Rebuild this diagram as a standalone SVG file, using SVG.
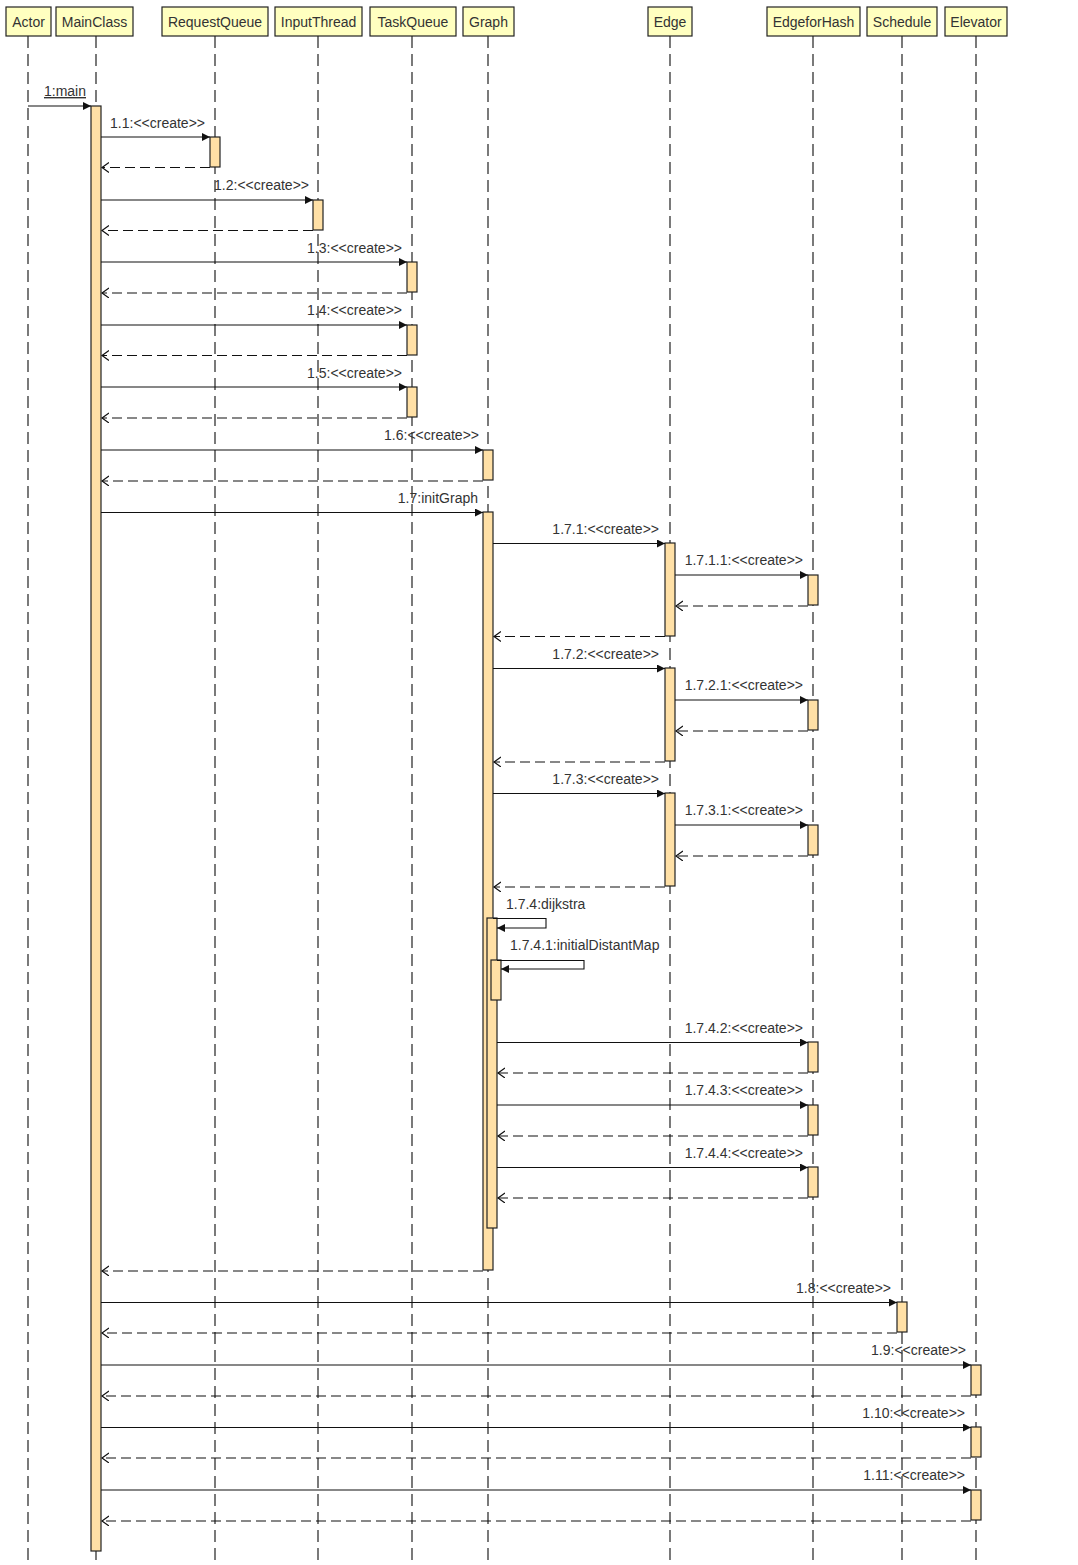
<svg xmlns="http://www.w3.org/2000/svg" width="1078" height="1565" viewBox="0 0 1078 1565">
<style>
text{font-family:"Liberation Sans",Arial,sans-serif;font-size:14px;fill:#333}
.hd{fill:#FFFFC0;stroke:#222;stroke-width:1.2}
.ll{stroke:#222;stroke-width:1.2;stroke-dasharray:12,6;fill:none}
.act{fill:#FFE0A6;stroke:#222;stroke-width:1.2}
.msg{stroke:#111;stroke-width:1.1;fill:none;marker-end:url(#sol)}
.ret{stroke:#111;stroke-width:1.1;fill:none;stroke-dasharray:10,5;marker-end:url(#opn)}
.lbl{text-anchor:end}
</style>
<defs>
<marker id="sol" markerUnits="userSpaceOnUse" markerWidth="10" markerHeight="10" refX="8" refY="4" orient="auto"><path d="M0,0 L8,4 L0,8 Z" fill="#111"/></marker>
<marker id="opn" markerUnits="userSpaceOnUse" markerWidth="12" markerHeight="12" refX="7" refY="5" orient="auto"><path d="M0,0 L7,5 L0,10" fill="none" stroke="#111" stroke-width="1.2"/></marker>
</defs>
<rect width="1078" height="1565" fill="#fff"/>
<g id="lifelines">
<line class="ll" x1="28" y1="36" x2="28" y2="1560"/>
<line class="ll" x1="96" y1="36" x2="96" y2="1560"/>
<line class="ll" x1="215" y1="36" x2="215" y2="1560"/>
<line class="ll" x1="318" y1="36" x2="318" y2="1560"/>
<line class="ll" x1="412" y1="36" x2="412" y2="1560"/>
<line class="ll" x1="488" y1="36" x2="488" y2="1560"/>
<line class="ll" x1="670" y1="36" x2="670" y2="1560"/>
<line class="ll" x1="813" y1="36" x2="813" y2="1560"/>
<line class="ll" x1="902" y1="36" x2="902" y2="1560"/>
<line class="ll" x1="976" y1="36" x2="976" y2="1560"/>
</g>
<g id="Actor"><rect class="hd" x="6" y="7" width="45" height="29"/><text x="28.5" y="27" text-anchor="middle">Actor</text></g>
<g id="MainClass"><rect class="hd" x="56" y="7" width="77" height="29"/><text x="94.5" y="27" text-anchor="middle">MainClass</text></g>
<g id="RequestQueue"><rect class="hd" x="162" y="7" width="106" height="29"/><text x="215" y="27" text-anchor="middle">RequestQueue</text></g>
<g id="InputThread"><rect class="hd" x="275" y="7" width="87" height="29"/><text x="318.5" y="27" text-anchor="middle">InputThread</text></g>
<g id="TaskQueue"><rect class="hd" x="370" y="7" width="86" height="29"/><text x="413" y="27" text-anchor="middle">TaskQueue</text></g>
<g id="Graph"><rect class="hd" x="463" y="7" width="51" height="29"/><text x="488.5" y="27" text-anchor="middle">Graph</text></g>
<g id="Edge"><rect class="hd" x="648" y="7" width="44" height="29"/><text x="670" y="27" text-anchor="middle">Edge</text></g>
<g id="EdgeforHash"><rect class="hd" x="767" y="7" width="93" height="29"/><text x="813.5" y="27" text-anchor="middle">EdgeforHash</text></g>
<g id="Schedule"><rect class="hd" x="867" y="7" width="70" height="29"/><text x="902" y="27" text-anchor="middle">Schedule</text></g>
<g id="Elevator"><rect class="hd" x="945" y="7" width="62" height="29"/><text x="976" y="27" text-anchor="middle">Elevator</text></g>
<g id="activations">
<rect class="act" x="91" y="106" width="10" height="1445"/>
<rect class="act" x="210" y="137" width="10" height="30"/>
<rect class="act" x="313" y="200" width="10" height="30"/>
<rect class="act" x="407" y="262" width="10" height="30"/>
<rect class="act" x="407" y="325" width="10" height="30"/>
<rect class="act" x="407" y="387" width="10" height="30"/>
<rect class="act" x="483" y="450" width="10" height="30"/>
<rect class="act" x="483" y="512" width="10" height="758"/>
<rect class="act" x="665" y="543" width="10" height="93"/>
<rect class="act" x="808" y="575" width="10" height="30"/>
<rect class="act" x="665" y="668" width="10" height="93"/>
<rect class="act" x="808" y="700" width="10" height="30"/>
<rect class="act" x="665" y="793" width="10" height="93"/>
<rect class="act" x="808" y="825" width="10" height="30"/>
<rect class="act" x="487" y="918" width="10" height="310"/>
<rect class="act" x="491" y="960" width="10" height="40"/>
<rect class="act" x="808" y="1042" width="10" height="30"/>
<rect class="act" x="808" y="1105" width="10" height="30"/>
<rect class="act" x="808" y="1167" width="10" height="30"/>
<rect class="act" x="897" y="1302" width="10" height="30"/>
<rect class="act" x="971" y="1365" width="10" height="30"/>
<rect class="act" x="971" y="1427" width="10" height="30"/>
<rect class="act" x="971" y="1490" width="10" height="30"/>
</g>
<g id="connectors">
<line class="msg" x1="28" y1="106" x2="91" y2="106"/>
<line class="msg" x1="101" y1="137" x2="210" y2="137"/>
<line class="ret" x1="210" y1="167.5" x2="102" y2="167.5"/>
<line class="msg" x1="101" y1="200" x2="313" y2="200"/>
<line class="ret" x1="313" y1="230.5" x2="102" y2="230.5"/>
<line class="msg" x1="101" y1="262" x2="407" y2="262"/>
<line class="ret" x1="407" y1="293" x2="102" y2="293"/>
<line class="msg" x1="101" y1="325" x2="407" y2="325"/>
<line class="ret" x1="407" y1="355.5" x2="102" y2="355.5"/>
<line class="msg" x1="101" y1="387" x2="407" y2="387"/>
<line class="ret" x1="407" y1="418" x2="102" y2="418"/>
<line class="msg" x1="101" y1="450" x2="483" y2="450"/>
<line class="ret" x1="483" y1="481" x2="102" y2="481"/>
<line class="msg" x1="101" y1="512.5" x2="483" y2="512.5"/>
<line class="msg" x1="493" y1="543.5" x2="665" y2="543.5"/>
<line class="msg" x1="675" y1="575" x2="808" y2="575"/>
<line class="ret" x1="808" y1="606" x2="676" y2="606"/>
<line class="ret" x1="665" y1="636.5" x2="494" y2="636.5"/>
<line class="msg" x1="493" y1="668.5" x2="665" y2="668.5"/>
<line class="msg" x1="675" y1="700" x2="808" y2="700"/>
<line class="ret" x1="808" y1="731" x2="676" y2="731"/>
<line class="ret" x1="665" y1="762" x2="494" y2="762"/>
<line class="msg" x1="493" y1="793.5" x2="665" y2="793.5"/>
<line class="msg" x1="675" y1="825" x2="808" y2="825"/>
<line class="ret" x1="808" y1="856" x2="676" y2="856"/>
<line class="ret" x1="665" y1="887" x2="494" y2="887"/>
<path class="msg" d="M493,918.5 H546 V928 H497"/>
<path class="msg" d="M497,960.5 H584 V969 H501"/>
<line class="msg" x1="497" y1="1042.5" x2="808" y2="1042.5"/>
<line class="ret" x1="808" y1="1073" x2="498" y2="1073"/>
<line class="msg" x1="497" y1="1105" x2="808" y2="1105"/>
<line class="ret" x1="808" y1="1136" x2="498" y2="1136"/>
<line class="msg" x1="497" y1="1167.5" x2="808" y2="1167.5"/>
<line class="ret" x1="808" y1="1198" x2="498" y2="1198"/>
<line class="ret" x1="483" y1="1271" x2="102" y2="1271"/>
<line class="msg" x1="101" y1="1302.5" x2="897" y2="1302.5"/>
<line class="ret" x1="897" y1="1333" x2="102" y2="1333"/>
<line class="msg" x1="101" y1="1365" x2="971" y2="1365"/>
<line class="ret" x1="971" y1="1396" x2="102" y2="1396"/>
<line class="msg" x1="101" y1="1427.5" x2="971" y2="1427.5"/>
<line class="ret" x1="971" y1="1458" x2="102" y2="1458"/>
<line class="msg" x1="101" y1="1490" x2="971" y2="1490"/>
<line class="ret" x1="971" y1="1521" x2="102" y2="1521"/>
</g>
<g id="labels">
<text x="65" y="96" text-anchor="middle" text-decoration="underline">1:main</text>
<text class="lbl" x="205" y="128">1.1:&lt;&lt;create&gt;&gt;</text>
<text class="lbl" x="309" y="190">1.2:&lt;&lt;create&gt;&gt;</text>
<text class="lbl" x="402" y="253">1.3:&lt;&lt;create&gt;&gt;</text>
<text class="lbl" x="402" y="315">1.4:&lt;&lt;create&gt;&gt;</text>
<text class="lbl" x="402" y="378">1.5:&lt;&lt;create&gt;&gt;</text>
<text class="lbl" x="479" y="440">1.6:&lt;&lt;create&gt;&gt;</text>
<text class="lbl" x="478" y="503">1.7:initGraph</text>
<text class="lbl" x="659" y="534">1.7.1:&lt;&lt;create&gt;&gt;</text>
<text class="lbl" x="803" y="565">1.7.1.1:&lt;&lt;create&gt;&gt;</text>
<text class="lbl" x="659" y="659">1.7.2:&lt;&lt;create&gt;&gt;</text>
<text class="lbl" x="803" y="690">1.7.2.1:&lt;&lt;create&gt;&gt;</text>
<text class="lbl" x="659" y="784">1.7.3:&lt;&lt;create&gt;&gt;</text>
<text class="lbl" x="803" y="815">1.7.3.1:&lt;&lt;create&gt;&gt;</text>
<text x="506" y="909">1.7.4:dijkstra</text>
<text x="510" y="950">1.7.4.1:initialDistantMap</text>
<text class="lbl" x="803" y="1033">1.7.4.2:&lt;&lt;create&gt;&gt;</text>
<text class="lbl" x="803" y="1095">1.7.4.3:&lt;&lt;create&gt;&gt;</text>
<text class="lbl" x="803" y="1158">1.7.4.4:&lt;&lt;create&gt;&gt;</text>
<text class="lbl" x="891" y="1293">1.8:&lt;&lt;create&gt;&gt;</text>
<text class="lbl" x="966" y="1355">1.9:&lt;&lt;create&gt;&gt;</text>
<text class="lbl" x="965" y="1418">1.10:&lt;&lt;create&gt;&gt;</text>
<text class="lbl" x="965" y="1480">1.11:&lt;&lt;create&gt;&gt;</text>
</g>
</svg>
